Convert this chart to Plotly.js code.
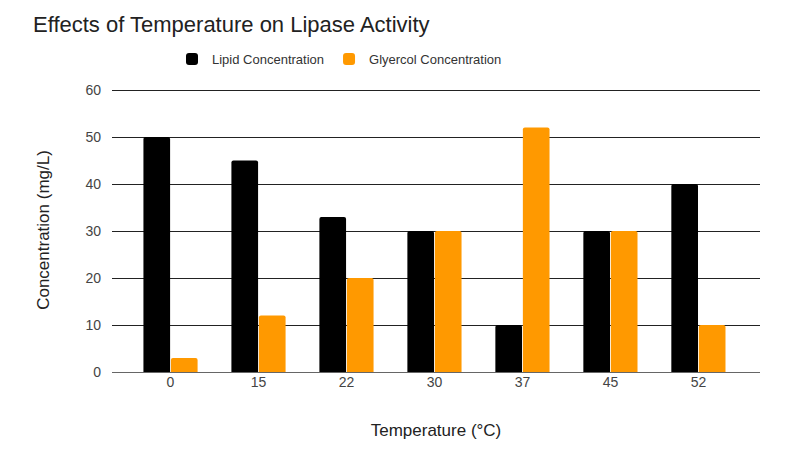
<!DOCTYPE html>
<html>
<head>
<meta charset="utf-8">
<script src="https://cdn.plot.ly/plotly-3.0.1.min.js"></script>
<style>
    html, body { margin: 0; padding: 0; background: #fff; }
    #chart { width: 801px; height: 464px; }
</style>
</head>
<body>
<div id="chart"></div>
<script>
const temperatures = ['0', '15', '22', '30', '37', '45', '52'];
const lipid = [50, 45, 33, 30, 10, 30, 40];
const glycerol = [3, 12, 20, 30, 52, 30, 10];
const yTicks = [0, 10, 20, 30, 40, 50, 60];

const font = 'Liberation Sans, Arial, sans-serif';

const lipidTrace = {
    type: 'bar',
    name: 'Lipid Concentration',
    x: temperatures,
    y: lipid,
    marker: { color: '#000000', cornerradius: 2 },
    hoverinfo: 'x+y+name'
};

const glycerolTrace = {
    type: 'bar',
    name: 'Glyercol Concentration',
    x: temperatures,
    y: glycerol,
    marker: { color: '#ff9900', cornerradius: 2 },
    hoverinfo: 'x+y+name'
};

// top margin one px short of the 60 line so plotly keeps that gridline
const layout = {
    width: 801,
    height: 464,
    margin: { l: 112, r: 41, t: 88, b: 92 },
    paper_bgcolor: '#ffffff',
    plot_bgcolor: '#ffffff',
    font: { family: font, color: '#444' },
    barmode: 'group',
    bargap: 0.375,
    bargroupgap: 0.03,
    title: {
        text: 'Effects of Temperature on Lipase Activity',
        font: { family: font, size: 22, color: '#222' },
        xref: 'container',
        x: 33 / 801,
        xanchor: 'left',
        yref: 'container',
        y: 1 - 24 / 464,
        yanchor: 'middle'
    },
    showlegend: true,
    legend: {
        orientation: 'h',
        xref: 'container',
        yref: 'container',
        x: 172 / 801,
        xanchor: 'left',
        y: 1 - 59 / 464,
        yanchor: 'middle',
        font: { family: font, size: 13, color: '#333' },
        traceorder: 'normal'
    },
    xaxis: {
        type: 'category',
        range: [-0.665, 6.7],
        showgrid: false,
        zeroline: false,
        showline: false,
        ticks: '',
        tickfont: { family: font, size: 14, color: '#444' },
        title: {
            text: 'Temperature (°C)',
            font: { family: font, size: 17, color: '#222' },
            standoff: 35
        }
    },
    yaxis: {
        range: [0, 60.425],
        tickvals: yTicks,
        showgrid: true,
        gridcolor: '#222',
        gridwidth: 1,
        zeroline: true,
        zerolinecolor: '#666',
        zerolinewidth: 1,
        ticks: '',
        ticklabelstandoff: 10,
        tickfont: { family: font, size: 14, color: '#444' },
        title: {
            text: 'Concentration (mg/L)',
            font: { family: font, size: 17, color: '#222' },
            standoff: 31
        }
    }
};

Plotly.newPlot('chart', [lipidTrace, glycerolTrace], layout, { displayModeBar: false, staticPlot: true });
</script>
</body>
</html>
